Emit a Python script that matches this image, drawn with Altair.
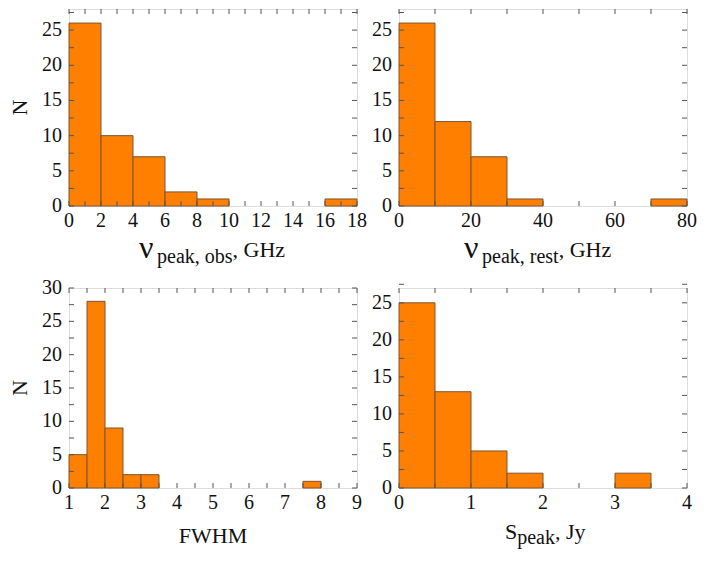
import altair as alt
import pandas as pd

# ---------------- data ----------------
# Panel A: nu_peak,obs [GHz], bin width 2
a_start = [0, 2, 4, 6, 8, 10, 12, 14, 16]
a_count = [26, 10, 7, 2, 1, 0, 0, 0, 1]
a_bin = 2
# Panel B: nu_peak,rest [GHz], bin width 10
b_start = [0, 10, 20, 30, 40, 50, 60, 70]
b_count = [26, 12, 7, 1, 0, 0, 0, 1]
b_bin = 10
# Panel C: FWHM, bin width 0.5
c_start = [1.0, 1.5, 2.0, 2.5, 3.0, 3.5, 4.0, 4.5, 5.0, 5.5, 6.0, 6.5, 7.0, 7.5, 8.0, 8.5]
c_count = [5, 28, 9, 2, 2, 0, 0, 0, 0, 0, 0, 0, 0, 1, 0, 0]
c_bin = 0.5
# Panel D: S_peak [Jy], bin width 0.5
d_start = [0.0, 0.5, 1.0, 1.5, 2.0, 2.5, 3.0, 3.5]
d_count = [25, 13, 5, 2, 0, 0, 2, 0]
d_bin = 0.5

# axis domains / labels / ticks
a_xdom = [0, 18]; a_xlab = [0, 2, 4, 6, 8, 10, 12, 14, 16, 18]
a_xtk = [0, 1, 2, 3, 4, 5, 6, 7, 8, 9, 10, 11, 12, 13, 14, 15, 16, 17, 18]
b_xdom = [0, 80]; b_xlab = [0, 20, 40, 60, 80]
b_xtk = [0, 10, 20, 30, 40, 50, 60, 70, 80]
c_xdom = [1, 9]; c_xlab = [1, 2, 3, 4, 5, 6, 7, 8, 9]
c_xtk = [1, 1.5, 2, 2.5, 3, 3.5, 4, 4.5, 5, 5.5, 6, 6.5, 7, 7.5, 8, 8.5, 9]
d_xdom = [0, 4]; d_xlab = [0, 1, 2, 3, 4]
d_xtk = [0, 0.5, 1, 1.5, 2, 2.5, 3, 3.5, 4]

ab_ydom = [0, 28]; c_ydom = [0, 30]; d_ydom = [0, 27]
y25_lab = [0, 5, 10, 15, 20, 25]
y30_lab = [0, 5, 10, 15, 20, 25, 30]
y27_tk = [0, 2.5, 5, 7.5, 10, 12.5, 15, 17.5, 20, 22.5, 25, 27.5]
y30_tk = [0, 2.5, 5, 7.5, 10, 12.5, 15, 17.5, 20, 22.5, 25, 27.5, 30]

ORANGE = "#FF8000"
EDGE = "#7a5532"
TICK = "#555555"
FONT = "Liberation Serif"
TXT = "#111111"

W = 288
H_TOP = 197
H_BOT = 200
TL = 5  # tick length
LSIZE = 20


def txt(s, x, y, size, angle=0, align="left"):
    return alt.Chart(alt.Data(values=[{}])).mark_text(
        text=s, fontSize=size, font=FONT, color=TXT, align=align,
        baseline="alphabetic", angle=angle
    ).encode(x=alt.value(x), y=alt.value(y))


def panel(starts, counts, binw, xdom, xlab, xtk, ydom, ylab, ytk, H, titles, show_n):
    df = pd.DataFrame({"lo": starts,
                       "hi": [s + binw for s in starts],
                       "n": counts})
    xs = alt.Scale(domain=xdom, nice=False, zero=False)
    ys = alt.Scale(domain=ydom, nice=False, zero=False)
    bars = alt.Chart(df).transform_filter("datum.n > 0").mark_rect(
        fill=ORANGE, stroke=EDGE, strokeWidth=1
    ).encode(
        x=alt.X("lo:Q", scale=xs, axis=None),
        x2="hi:Q",
        y=alt.Y("n:Q", scale=ys, axis=None),
        y2=alt.datum(0),
    )
    tx = pd.DataFrame({"t": xtk})
    ty = pd.DataFrame({"t": ytk})
    xb = alt.Chart(tx).mark_rule(color=TICK, strokeWidth=1).encode(
        x=alt.X("t:Q", scale=xs, axis=None), y=alt.value(H), y2=alt.value(H - TL))
    xt = alt.Chart(tx).mark_rule(color=TICK, strokeWidth=1).encode(
        x=alt.X("t:Q", scale=xs, axis=None), y=alt.value(0), y2=alt.value(TL))
    yl = alt.Chart(ty).mark_rule(color=TICK, strokeWidth=1).encode(
        y=alt.Y("t:Q", scale=ys, axis=None), x=alt.value(0), x2=alt.value(TL))
    yr = alt.Chart(ty).mark_rule(color=TICK, strokeWidth=1).encode(
        y=alt.Y("t:Q", scale=ys, axis=None), x=alt.value(W), x2=alt.value(W - TL))
    # tick labels drawn through the same scales
    xl = alt.Chart(pd.DataFrame({"v": xlab})).mark_text(
        font=FONT, fontSize=LSIZE, color=TXT, align="center", baseline="top"
    ).encode(x=alt.X("v:Q", scale=xs, axis=None), y=alt.value(H + 5),
             text=alt.Text("v:Q", format="d"))
    yl2 = alt.Chart(pd.DataFrame({"v": ylab})).mark_text(
        font=FONT, fontSize=LSIZE, color=TXT, align="right", baseline="middle"
    ).encode(y=alt.Y("v:Q", scale=ys, axis=None), x=alt.value(-7),
             text=alt.Text("v:Q", format="d"))
    layers = [bars, xb, xt, yl, yr, xl, yl2]
    for (s, x, dy, size, align) in titles:
        layers.append(txt(s, x, H + dy, size, align=align))
    if show_n:
        layers.append(txt("N", -42, H / 2, 22, angle=270, align="center"))
    return alt.layer(*layers).properties(width=W, height=H)


# title pieces: (text, x, dy below plot bottom, font size, align)
SUB = 20
MAIN = 22
NU = 32
a_titles = [("ν", 70, 52, NU, "left"),
            ("peak, obs", 88, 57, SUB, "left"),
            (", GHz", 88 + SUB * 3.777, 51, MAIN, "left")]
b_titles = [("ν", 65, 52, NU, "left"),
            ("peak, rest", 83, 57, SUB, "left"),
            (", GHz", 83 + SUB * 3.832, 51, MAIN, "left")]
c_titles = [("FWHM", W / 2, 55, MAIN, "center")]
d_titles = [("S", 106, 51, MAIN, "left"),
            ("peak", 106 + 0.556 * MAIN, 56, SUB, "left"),
            (", Jy", 106 + 0.556 * MAIN + SUB * 1.888, 51, MAIN, "left")]

pa = panel(a_start, a_count, a_bin, a_xdom, a_xlab, a_xtk, ab_ydom, y25_lab, y27_tk, H_TOP, a_titles, True)
pb = panel(b_start, b_count, b_bin, b_xdom, b_xlab, b_xtk, ab_ydom, y25_lab, y27_tk, H_TOP, b_titles, False)
pc = panel(c_start, c_count, c_bin, c_xdom, c_xlab, c_xtk, c_ydom, y30_lab, y30_tk, H_BOT, c_titles, True)
pd_ = panel(d_start, d_count, d_bin, d_xdom, d_xlab, d_xtk, d_ydom, y25_lab, y27_tk, H_BOT, d_titles, False)

chart = alt.concat(pa, pb, pc, pd_, columns=2, spacing={"row": 82, "column": 42},
                   bounds="flush").properties(
    padding={"left": 0, "top": 0, "right": 0, "bottom": 0}
).configure_view(stroke="#555555", strokeWidth=1).configure(background="white", font=FONT)

chart.save("out.html", embed_options={"renderer": "svg", "actions": False})
